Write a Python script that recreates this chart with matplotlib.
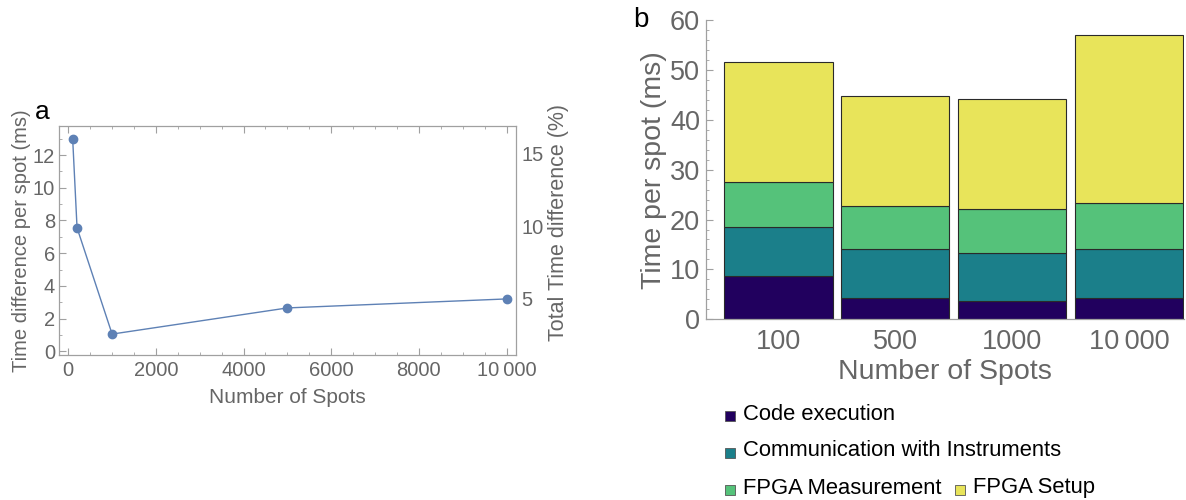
import matplotlib
matplotlib.use('Agg')
import matplotlib.pyplot as plt
from matplotlib.patches import Rectangle
from matplotlib.ticker import MultipleLocator

plt.rcParams['font.family'] = ['Liberation Sans', 'DejaVu Sans']

GRAY = '#666666'
FRAME = '#a0a0a0'

# panel a: time difference vs number of spots
spots = [100, 200, 1000, 5000, 10000]
time_diff = [13.0, 7.55, 1.05, 2.65, 3.2]
xtick_vals = [0, 2000, 4000, 6000, 8000, 10000]
xtick_labels = ['0', '2000', '4000', '6000', '8000', '10\u2009000']

# panel b: stacked time per spot
bar_labels = ['100', '500', '1000', '10\u2009000']
code_exec = [8.6, 4.3, 3.6, 4.2]
communication = [9.9, 9.8, 9.7, 9.9]
fpga_meas = [9.0, 8.7, 8.8, 9.2]
fpga_setup = [24.0, 21.9, 22.1, 33.7]
series_names = ['Code execution', 'Communication with Instruments', 'FPGA Measurement', 'FPGA Setup']
series_colors = ['#21005e', '#1b7f8a', '#55c27a', '#e8e45a']

fig = plt.figure(figsize=(11.86, 5), dpi=100)

# ---- panel a ----
ax = fig.add_axes([59.3 / 1186, 1 - 355 / 500, (516 - 59.3) / 1186, (355 - 126) / 500])
ax.plot(spots, time_diff, color='#5e81b5', lw=1.0, marker='o', markersize=6)
ax.set_xlim(-205, 10216)
ax.set_ylim(-0.23, 13.78)
ax.set_xticks(xtick_vals)
ax.set_xticklabels(xtick_labels)
ax.set_yticks([0, 2, 4, 6, 8, 10, 12])
ax.xaxis.set_minor_locator(MultipleLocator(500))
ax.yaxis.set_minor_locator(MultipleLocator(1))
ax.tick_params(which='both', direction='in', top=True, right=False, colors=FRAME,
               labelcolor=GRAY, labelsize=14.5)
ax.tick_params(which='major', length=5, width=0.8)
ax.tick_params(which='minor', length=2.5, width=0.6)
ax.tick_params(axis='x', pad=4)
ax.tick_params(axis='y', pad=3)
for s in ax.spines.values():
    s.set_color(FRAME)
    s.set_linewidth(0.9)
ax.set_xlabel('Number of Spots', color=GRAY, fontsize=15, labelpad=6)
ax.set_ylabel('Time difference per spot (ms)', color=GRAY, fontsize=14.5, labelpad=1)

# secondary axis in percent
ax2 = ax.twinx()
ax2.set_ylim(1.15, 16.87)
ax2.set_yticks([5, 10, 15])
ax2.tick_params(axis='y', length=0, labelcolor=GRAY, labelsize=14.5, pad=4)
for s in ax2.spines.values():
    s.set_visible(False)
ax2.set_ylabel('Total Time difference (%)', color=GRAY, fontsize=15.5)
ax2.yaxis.set_label_coords(1.07, 0.58)

fig.text(35 / 1186, 1 - 112 / 500, 'a', fontsize=19, color='black', va='center')

# ---- panel b ----
bx = fig.add_axes([705.7 / 1186, 1 - 319.3 / 500, (1184 - 705.7) / 1186, (319.3 - 20) / 500])
pos = list(range(len(bar_labels)))
bottom = [0] * len(bar_labels)
for vals, name, col in zip([code_exec, communication, fpga_meas, fpga_setup], series_names, series_colors):
    bx.bar(pos, vals, bottom=bottom, width=0.926, color=col, edgecolor='#2a2a2a', linewidth=0.8, label=name)
    bottom = [b + v for b, v in zip(bottom, vals)]
bx.set_xlim(-0.622, 3.47)
bx.set_ylim(0, 60)
bx.set_xticks(pos)
bx.set_xticklabels(bar_labels)
bx.yaxis.set_major_locator(MultipleLocator(10))
bx.yaxis.set_minor_locator(MultipleLocator(2))
bx.tick_params(axis='x', length=0, labelsize=19.5, labelcolor=GRAY, pad=7)
bx.tick_params(axis='y', which='both', direction='in', colors=FRAME, labelcolor=GRAY, labelsize=19.5, pad=4)
bx.tick_params(axis='y', which='major', length=5, width=0.8)
bx.tick_params(axis='y', which='minor', length=2.5, width=0.6)
bx.spines['top'].set_visible(False)
bx.spines['right'].set_visible(False)
for side in ['left', 'bottom']:
    bx.spines[side].set_color(FRAME)
    bx.spines[side].set_linewidth(0.9)
bx.set_xlabel('Number of Spots', color=GRAY, fontsize=20.5, labelpad=3)
bx.set_ylabel('Time per spot (ms)', color=GRAY, fontsize=20.5, labelpad=2)

fig.text(633 / 1186, 1 - 20 / 500, 'b', fontsize=20, color='black', va='center')

# manual legend below panel b
legend_spots = [(725, 414), (725, 451), (725, 488), (955, 488)]
for (px, py), name, col in zip(legend_spots, series_names, series_colors):
    fig.add_artist(Rectangle((px / 1186, 1 - (py + 7) / 500), 10 / 1186, 10 / 500,
                             transform=fig.transFigure, facecolor=col, edgecolor='#555555', linewidth=0.6))
    fig.text((px + 18) / 1186, 1 - py / 500, name, fontsize=15.8, color='black', va='center')

fig.savefig('out.png', dpi=100)
